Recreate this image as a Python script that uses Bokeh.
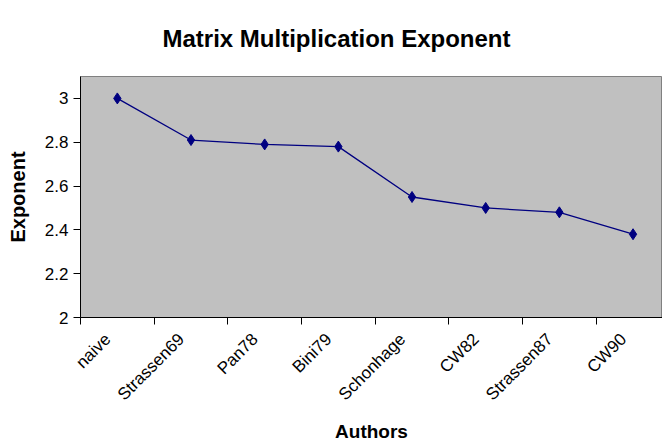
import math
from bokeh.plotting import figure
from bokeh.models import Range1d, FixedTicker
from bokeh.embed import file_html
from bokeh.resources import INLINE

title_text = "Matrix Multiplication Exponent"
authors = ["naive", "Strassen69", "Pan78", "Bini79", "Schonhage", "CW82", "Strassen87", "CW90"]
exponents = [3.0, 2.81, 2.79, 2.78, 2.55, 2.50, 2.48, 2.38]
y_ticks = [2, 2.2, 2.4, 2.6, 2.8, 3]

xs = [i + 0.5 for i in range(len(authors))]
label_pos = [i + 0.37 for i in range(len(authors))]
bounds = list(range(len(authors) + 1))

FONT = "Liberation Sans"

p = figure(width=662, height=444, output_backend="svg", toolbar_location=None,
           x_range=Range1d(0, 7.9), y_range=Range1d(2, 3.1),
           min_border_left=80, min_border_right=0, min_border_top=76, min_border_bottom=126)

p.title.text = title_text
p.title.align = "left"
p.title.offset = 82
p.title.vertical_align = "top"
p.title.standoff = 45
p.title.text_font = FONT
p.title.text_font_size = "24px"
p.title.text_font_style = "bold"
p.title.text_color = "black"

p.background_fill_color = "#C0C0C0"
p.border_fill_color = "white"
p.outline_line_color = "#808080"
p.xgrid.visible = False
p.ygrid.visible = False

p.line(xs, exponents, line_color="#000080", line_width=1.3)
p.scatter(xs, exponents, marker="diamond", size=11, color="#000080")

xa = p.xaxis[0]
xa.ticker = FixedTicker(ticks=label_pos, minor_ticks=bounds)
xa.major_label_overrides = {x: a for x, a in zip(label_pos, authors)}
xa.major_tick_line_color = None
xa.minor_tick_line_color = "black"
xa.minor_tick_out = 7
xa.minor_tick_in = 0
xa.major_label_orientation = math.pi / 4
xa.major_label_text_font = FONT
xa.major_label_text_font_size = "17px"
xa.major_label_text_color = "black"
xa.major_label_standoff = 12
xa.axis_line_color = "black"
xa.axis_label = "Authors"
xa.axis_label_text_font = FONT
xa.axis_label_text_font_size = "19px"
xa.axis_label_text_font_style = "bold"
xa.axis_label_text_color = "black"
xa.axis_label_standoff = 7

ya = p.yaxis[0]
ya.ticker = FixedTicker(ticks=y_ticks, minor_ticks=[])
ya.major_label_overrides = {t: f"{t:g}" for t in y_ticks}
ya.major_tick_out = 7
ya.major_tick_in = 0
ya.major_tick_line_color = "black"
ya.major_label_standoff = 5
ya.major_label_text_font = FONT
ya.major_label_text_font_size = "17px"
ya.major_label_text_color = "black"
ya.axis_line_color = "black"
ya.axis_label = "Exponent"
ya.axis_label_text_font = FONT
ya.axis_label_text_font_size = "20px"
ya.axis_label_text_font_style = "bold"
ya.axis_label_text_color = "black"
ya.axis_label_standoff = 13

open("out.html", "w").write(file_html(p, INLINE))
